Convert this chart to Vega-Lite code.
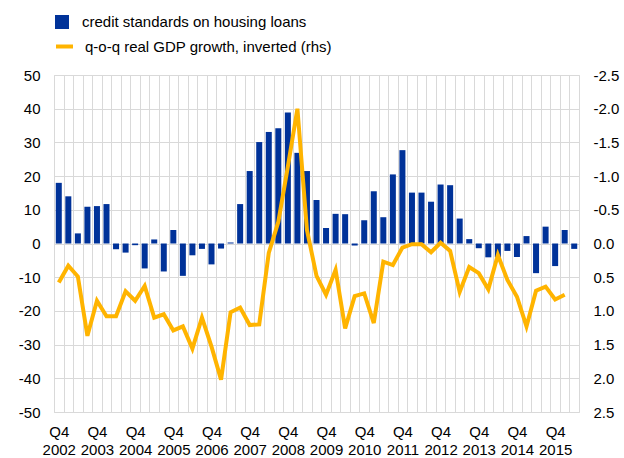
{
  "$schema": "https://vega.github.io/schema/vega-lite/v6.json",
  "width": 525,
  "height": 337,
  "autosize": "none",
  "padding": {"left": 54, "top": 75, "right": 45, "bottom": 46},
  "config": {
    "font": "Liberation Sans",
    "view": {"stroke": "#d9d9d9"},
    "axis": {
      "labelFont": "Liberation Sans",
      "labelFontSize": 15,
      "labelColor": "#000000",
      "domain": false,
      "ticks": false,
      "gridColor": "#d9d9d9",
      "gridWidth": 1
    },
    "legend": {"labelFont": "Liberation Sans", "labelFontSize": 15, "labelColor": "#000000", "labelLimit": 0}
  },
  "data": {
    "values": [
      {"q": "Q4 2002", "credit": 18, "gdp": 0.58},
      {"q": "Q1 2003", "credit": 14, "gdp": 0.33},
      {"q": "Q2 2003", "credit": 3, "gdp": 0.49},
      {"q": "Q3 2003", "credit": 10.9, "gdp": 1.37},
      {"q": "Q4 2003", "credit": 11.1, "gdp": 0.85},
      {"q": "Q1 2004", "credit": 11.7, "gdp": 1.08},
      {"q": "Q2 2004", "credit": -1.7, "gdp": 1.08},
      {"q": "Q3 2004", "credit": -2.7, "gdp": 0.71},
      {"q": "Q4 2004", "credit": -0.5, "gdp": 0.85},
      {"q": "Q1 2005", "credit": -7.4, "gdp": 0.63},
      {"q": "Q2 2005", "credit": 1.2, "gdp": 1.10},
      {"q": "Q3 2005", "credit": -8.3, "gdp": 1.05},
      {"q": "Q4 2005", "credit": 4.0, "gdp": 1.29},
      {"q": "Q1 2006", "credit": -9.6, "gdp": 1.23},
      {"q": "Q2 2006", "credit": -3.5, "gdp": 1.56},
      {"q": "Q3 2006", "credit": -1.6, "gdp": 1.10},
      {"q": "Q4 2006", "credit": -6.2, "gdp": 1.53},
      {"q": "Q1 2007", "credit": -1.5, "gdp": 2.02},
      {"q": "Q2 2007", "credit": 0.3, "gdp": 1.02},
      {"q": "Q3 2007", "credit": 11.7, "gdp": 0.95},
      {"q": "Q4 2007", "credit": 21.5, "gdp": 1.21},
      {"q": "Q1 2008", "credit": 30.1, "gdp": 1.20},
      {"q": "Q2 2008", "credit": 33.1, "gdp": 0.14},
      {"q": "Q3 2008", "credit": 34.2, "gdp": -0.32},
      {"q": "Q4 2008", "credit": 38.9, "gdp": -1.14},
      {"q": "Q1 2009", "credit": 26.9, "gdp": -2.0},
      {"q": "Q2 2009", "credit": 21.5, "gdp": -0.2},
      {"q": "Q3 2009", "credit": 12.9, "gdp": 0.48},
      {"q": "Q4 2009", "credit": 4.6, "gdp": 0.76},
      {"q": "Q1 2010", "credit": 8.8, "gdp": 0.39},
      {"q": "Q2 2010", "credit": 8.7, "gdp": 1.26},
      {"q": "Q3 2010", "credit": -0.6, "gdp": 0.78},
      {"q": "Q4 2010", "credit": 6.9, "gdp": 0.74},
      {"q": "Q1 2011", "credit": 15.5, "gdp": 1.18},
      {"q": "Q2 2011", "credit": 7.8, "gdp": 0.27},
      {"q": "Q3 2011", "credit": 20.5, "gdp": 0.32},
      {"q": "Q4 2011", "credit": 27.7, "gdp": 0.06},
      {"q": "Q1 2012", "credit": 15.1, "gdp": 0.01},
      {"q": "Q2 2012", "credit": 15.1, "gdp": 0.01},
      {"q": "Q3 2012", "credit": 12.4, "gdp": 0.13},
      {"q": "Q4 2012", "credit": 17.5, "gdp": -0.01},
      {"q": "Q1 2013", "credit": 17.3, "gdp": 0.11},
      {"q": "Q2 2013", "credit": 7.4, "gdp": 0.72},
      {"q": "Q3 2013", "credit": 1.3, "gdp": 0.35},
      {"q": "Q4 2013", "credit": -1.4, "gdp": 0.44},
      {"q": "Q1 2014", "credit": -4.1, "gdp": 0.68},
      {"q": "Q2 2014", "credit": -4.1, "gdp": 0.17},
      {"q": "Q3 2014", "credit": -2.2, "gdp": 0.54},
      {"q": "Q4 2014", "credit": -4.0, "gdp": 0.79},
      {"q": "Q1 2015", "credit": 2.2, "gdp": 1.23},
      {"q": "Q2 2015", "credit": -8.8, "gdp": 0.70},
      {"q": "Q3 2015", "credit": 5.0, "gdp": 0.64},
      {"q": "Q4 2015", "credit": -6.7, "gdp": 0.83},
      {"q": "Q1 2016", "credit": 4.0, "gdp": 0.76},
      {"q": "Q2 2016", "credit": -1.6, "gdp": null}
    ]
  },
  "encoding": {
    "x": {
      "field": "q",
      "type": "ordinal",
      "sort": null,
      "scale": {"paddingInner": 0.37, "paddingOuter": 0.185},
      "axis": {
        "title": null,
        "grid": true,
        "tickOffset": -4.7727,
        "labelOffset": 4.7727,
        "labelAngle": 0,
        "labelOverlap": false,
        "labelPadding": 12,
        "labelLineHeight": 18,
        "labelExpr": "slice(datum.value,0,2)==='Q4' ? ['Q4', slice(datum.value,3)] : ''"
      }
    }
  },
  "layer": [
    {
      "mark": {"type": "bar"},
      "encoding": {
        "y": {
          "field": "credit",
          "type": "quantitative",
          "scale": {"domain": [-50, 50], "nice": false},
          "axis": {
            "title": null,
            "orient": "left",
            "grid": true,
            "values": [-50, -40, -30, -20, -10, 0, 10, 20, 30, 40, 50],
            "labelPadding": 14,
            "labelExpr": "replace(format(datum.value,'d'),'\u2212','-')"
          }
        },
        "color": {
          "datum": "credit standards on housing loans",
          "scale": {"range": ["#003299"]},
          "legend": {
            "title": null,
            "orient": "none",
            "legendX": 0,
            "legendY": -61,
            "symbolType": "square",
            "symbolSize": 196,
            "labelOffset": 12
          }
        }
      }
    },
    {
      "mark": {"type": "line", "strokeWidth": 4},
      "encoding": {
        "y": {
          "field": "gdp",
          "type": "quantitative",
          "scale": {"domain": [-2.5, 2.5], "reverse": true, "nice": false},
          "axis": {
            "title": null,
            "orient": "right",
            "grid": false,
            "values": [-2.5, -2, -1.5, -1, -0.5, 0, 0.5, 1, 1.5, 2, 2.5],
            "labelPadding": 14,
            "labelExpr": "replace(format(datum.value,'.1f'),'\u2212','-')"
          }
        },
        "stroke": {
          "datum": "q-o-q real GDP growth, inverted (rhs)",
          "scale": {"range": ["#FFB400"]},
          "legend": {
            "title": null,
            "orient": "none",
            "legendX": 0,
            "legendY": -39,
            "symbolType": "stroke",
            "symbolSize": 289,
            "symbolStrokeWidth": 4,
            "labelOffset": 10
          }
        }
      }
    }
  ],
  "resolve": {"scale": {"y": "independent"}}
}
